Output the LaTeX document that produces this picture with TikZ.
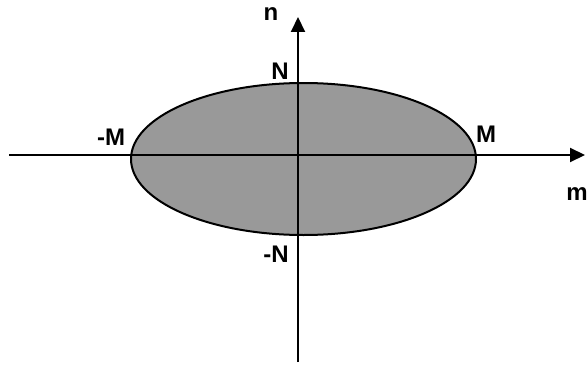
\documentclass[tikz,border=0pt]{standalone}
\usepackage{fontspec}
\setmainfont{Liberation Sans}
\usepackage{xcolor}
\usepackage{tikz}
\usetikzlibrary{arrows.meta,shapes.geometric}
\definecolor{regiongray}{HTML}{999999}
\tikzset{
  axis/.style={-{Triangle[length=7.5pt,width=7pt]}, line width=1pt, color=black},
  region/.style={ellipse, draw=black, line width=1pt, fill=regiongray, inner sep=0pt},
  lbl/.style={font=\fontsize{12}{14}\selectfont\bfseries, inner sep=0pt},
}

\begin{document}
\begin{tikzpicture}[x=0.5pt,y=-0.5pt]
  \useasboundingbox (0,0) rectangle (587,369);

  \node[region, minimum width=172.5pt, minimum height=76pt] (region) at (303.5,159) {};

  \coordinate (mstart) at (9,155);
  \coordinate (mend) at (585,155);
  \coordinate (nstart) at (298,362);
  \coordinate (nend) at (298,17);

  \draw[axis] (mstart) -- (mend);
  \draw[axis] (nstart) -- (nend);

  \node[lbl] (mlabel) at (577,194) {m};
  \node[lbl] (nlabel) at (271,14) {n};
  \node[lbl] (Mpos) at (486,134) {M};
  \node[lbl] (Mneg) at (111,137) {-M};
  \node[lbl] (Npos) at (280,71) {N};
  \node[lbl] (Nneg) at (276,254) {-N};

\end{tikzpicture}
\end{document}
